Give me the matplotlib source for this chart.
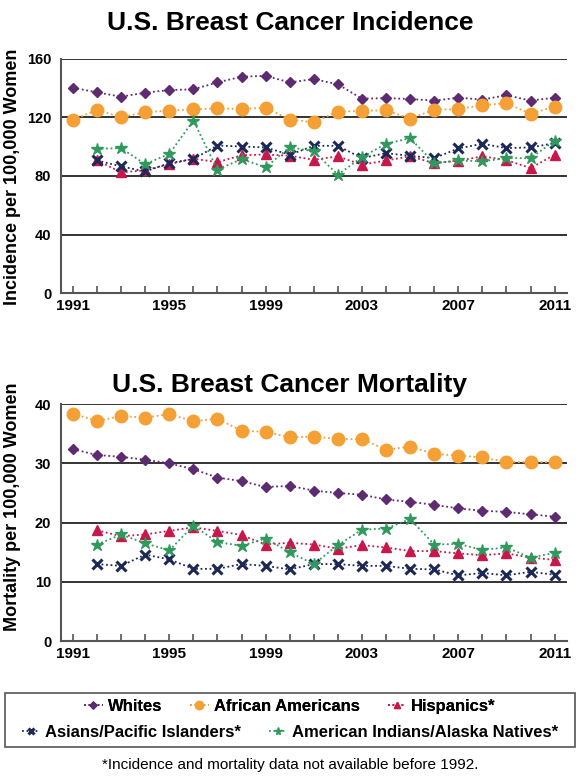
"""Incidence et mortalité du cancer du sein aux États-Unis, 1991-2011."""

import matplotlib

matplotlib.use("Agg")
import matplotlib.pyplot as plt  # noqa: E402
from matplotlib.patches import Rectangle  # noqa: E402

plt.rcParams["font.family"] = ["Liberation Sans", "DejaVu Sans"]

years = list(range(1991, 2012))
years_92 = list(range(1992, 2012))
tick_years = [1991, 1995, 1999, 2003, 2007, 2011]

labels = ["Whites", "African Americans", "Hispanics*",
          "Asians/Pacific Islanders*", "American Indians/Alaska Natives*"]

# incidence per 100,000 women
inc_whites = [140.1, 136.9, 134.0, 136.7, 138.5, 139.0, 143.7, 147.6, 148.2, 143.7, 146.0,
              142.4, 132.6, 133.0, 132.4, 131.3, 133.3, 132.0, 135.0, 131.3, 133.3]
inc_black = [118.1, 125.0, 120.0, 123.4, 124.5, 125.4, 126.0, 125.6, 126.5, 118.4, 116.6,
             123.8, 124.3, 124.7, 119.0, 125.2, 125.4, 128.3, 129.5, 122.4, 127.2]
inc_hisp = [90.5, 82.4, 83.8, 88.0, 91.7, 89.4, 94.0, 94.6, 93.7, 91.0,
            93.3, 87.6, 90.5, 93.3, 88.7, 90.3, 93.3, 90.8, 85.3, 94.4]
inc_asian = [90.5, 86.5, 83.0, 88.7, 91.5, 100.7, 100.0, 99.4, 94.4, 100.5,
             100.5, 92.1, 95.5, 93.7, 92.1, 98.7, 101.9, 98.9, 99.4, 102.3]
inc_aian = [98.5, 98.9, 88.0, 95.0, 117.7, 84.2, 91.5, 85.8, 99.6, 96.7,
            80.8, 92.8, 101.9, 105.7, 88.7, 90.5, 89.9, 92.1, 92.1, 103.9]

# mortality per 100,000 women
mort_whites = [32.4, 31.4, 31.1, 30.6, 30.0, 29.0, 27.6, 27.0, 26.0, 26.2, 25.4,
               25.0, 24.7, 23.9, 23.5, 23.0, 22.4, 22.0, 21.8, 21.4, 21.0]
mort_black = [38.4, 37.1, 38.0, 37.7, 38.3, 37.1, 37.5, 35.5, 35.3, 34.4, 34.5,
              34.1, 34.1, 32.3, 32.8, 31.6, 31.3, 31.0, 30.2, 30.2, 30.2]
mort_hisp = [18.7, 17.7, 18.0, 18.6, 19.2, 18.6, 17.9, 16.3, 16.6, 16.3,
             15.6, 16.2, 15.8, 15.2, 15.2, 14.8, 14.5, 14.8, 14.1, 13.7]
mort_asian = [13.0, 12.7, 14.6, 13.8, 12.2, 12.2, 13.0, 12.7, 12.1, 13.0,
              13.0, 12.7, 12.7, 12.2, 12.1, 11.1, 11.5, 11.1, 11.7, 11.2]
mort_aian = [16.3, 18.0, 16.5, 15.3, 19.5, 16.7, 16.1, 17.3, 15.0, 13.0,
             16.2, 18.8, 19.0, 20.6, 16.3, 16.4, 15.4, 15.8, 14.1, 14.9]

styles = [
    dict(color="#5e2a72", marker="D", markersize=5.5),
    dict(color="#f5a035", marker="o", markersize=9),
    dict(color="#c8174a", marker="^", markersize=7),
    dict(color="#1c2857", marker="x", markersize=7, markeredgewidth=2.2),
    dict(color="#2f9a5c", marker="*", markersize=9),
]


def draw_panel(ax, series, ymax, step):
    for (x, y), label, style in zip(series, labels, styles):
        ax.plot(x, y, linestyle=(0, (1, 1.5)), linewidth=1.3, label=label, **style)
    ax.set_xlim(1990.5, 2011.5)
    ax.set_ylim(0, ymax)
    ax.set_yticks(range(0, ymax + 1, step))
    ax.set_xticks(years)
    ax.set_xticklabels([str(y) if y in tick_years else "" for y in years])
    ax.yaxis.grid(True, color="#333333", linewidth=1.4)
    ax.set_axisbelow(True)
    for side in ("top", "right"):
        ax.spines[side].set_visible(False)
    for side in ("left", "bottom"):
        ax.spines[side].set_color("#555555")
        ax.spines[side].set_linewidth(1.5)
    ax.tick_params(axis="x", direction="in", length=5, width=1.2, color="#555555",
                   labelsize=11, pad=4)
    ax.tick_params(axis="y", length=0, labelsize=10.5, pad=7)
    for t in ax.get_xticklabels() + ax.get_yticklabels():
        t.set_fontweight("bold")


fig = plt.figure(figsize=(5.8, 7.8), dpi=100)
ax_inc = fig.add_axes([0.105, 0.624, 0.872, 0.301])
ax_mort = fig.add_axes([0.105, 0.178, 0.872, 0.304])

draw_panel(ax_inc, [(years, inc_whites), (years, inc_black), (years_92, inc_hisp),
                    (years_92, inc_asian), (years_92, inc_aian)], 160, 40)
draw_panel(ax_mort, [(years, mort_whites), (years, mort_black), (years_92, mort_hisp),
                     (years_92, mort_asian), (years_92, mort_aian)], 40, 10)

fig.text(0.5, 0.971, "U.S. Breast Cancer Incidence", ha="center", va="center",
         fontsize=19, fontweight="bold")
fig.text(0.5, 0.506, "U.S. Breast Cancer Mortality", ha="center", va="center",
         fontsize=19, fontweight="bold")
fig.text(0.022, 0.773, "Incidence per 100,000 Women", rotation=90, ha="center",
         va="center", fontsize=13, fontweight="bold")
fig.text(0.022, 0.35, "Mortality per 100,000 Women", rotation=90, ha="center",
         va="center", fontsize=13, fontweight="bold")

# legend: framed box with two centred rows
fig.patches.append(Rectangle((0.009, 0.042), 0.982, 0.07, transform=fig.transFigure,
                             fill=False, edgecolor="#555555", linewidth=1.2))
handles, _ = ax_mort.get_legend_handles_labels()
leg_font = dict(size=12, weight="bold")
row1 = fig.legend(handles[:3], labels[:3], loc="center", bbox_to_anchor=(0.5, 0.094),
                  ncol=3, frameon=False, prop=leg_font, handlelength=1.1,
                  handletextpad=0.3, columnspacing=1.7, markerscale=0.65)
fig.legend(handles[3:], labels[3:], loc="center", bbox_to_anchor=(0.5, 0.061),
           ncol=2, frameon=False, prop=leg_font, handlelength=1.1,
           handletextpad=0.3, columnspacing=1.7, markerscale=0.65)
fig.add_artist(row1)

fig.text(0.5, 0.019, "*Incidence and mortality data not available before 1992.",
         ha="center", va="center", fontsize=11)

fig.savefig("out.png", dpi=100)
